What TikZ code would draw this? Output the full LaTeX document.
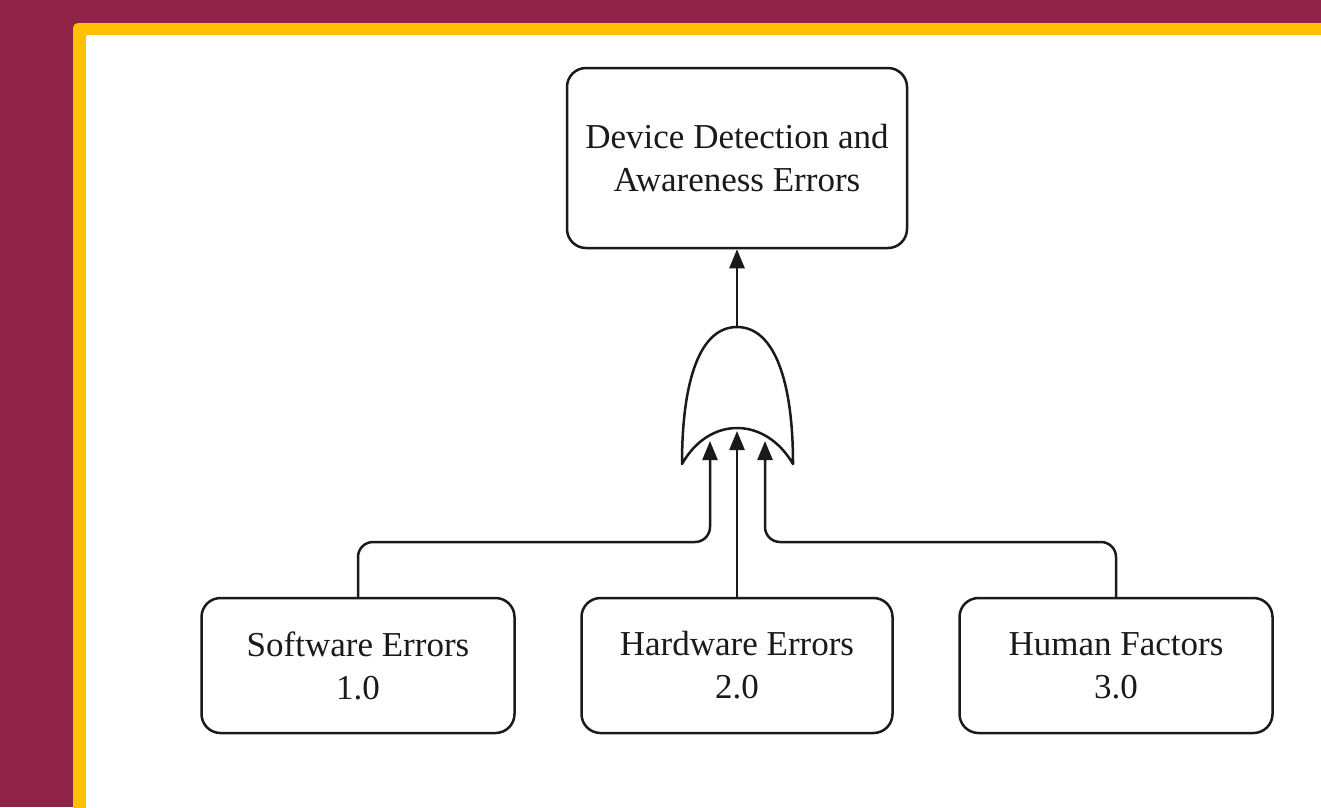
\documentclass[tikz,border=0pt]{standalone}
\usepackage{fontspec}
\setmainfont{Liberation Serif}
\usetikzlibrary{arrows.meta}
\definecolor{maroon}{HTML}{8E2247}
\definecolor{gold}{HTML}{FFC000}
\definecolor{ink}{HTML}{1A1A1A}
\tikzset{
  box/.style={draw=ink, line width=2.5pt, rounded corners=19pt, fill=white, align=center,
    inner sep=0pt, font=\fontsize{35}{43}\selectfont, text=ink},
  conn/.style={draw=ink, line width=2.5pt},
  arr/.style={conn, -{Triangle[length=19pt,width=15pt]}},
}
\begin{document}
\begin{tikzpicture}[x=1pt,y=-1pt]
\useasboundingbox (0,0) rectangle (1321,807);
\fill[maroon] (0,0) rectangle (1321,807);
\fill[gold, rounded corners=5pt] (73,23) rectangle (1345,835);
\fill[white, rounded corners=2pt] (86,35) rectangle (1345,835);

\node[box, minimum width=340pt, minimum height=180pt] (top) at (737,158) {Device Detection and\\Awareness Errors};
\node[box, minimum width=313pt, minimum height=135pt] (sw) at (358,665.5) {Software Errors\\1.0};
\node[box, minimum width=311pt, minimum height=135pt] (hw) at (737,665.5) {Hardware Errors\\2.0};
\node[box, minimum width=313pt, minimum height=135pt] (hf) at (1116,665.5) {Human Factors\\3.0};

% OR gate
\coordinate (gtop) at (737,327);
\coordinate (in1) at (710,441);
\coordinate (in2) at (737,431);
\coordinate (in3) at (765,441);
\coordinate (j1) at (710,542);
\coordinate (j3) at (765,542);
\draw[conn, line join=round] (682,464) .. controls (682,380) and (700,327) .. (gtop)
  .. controls (774,327) and (793,380) .. (793,464)
  .. controls (765,416) and (709,416) .. cycle;

\draw[arr] (gtop) -- (top.south);
\draw[arr, rounded corners=15pt] (sw.north) |- (j1) -- (in1);
\draw[arr] (hw.north) -- (in2);
\draw[arr, rounded corners=15pt] (hf.north) |- (j3) -- (in3);
\end{tikzpicture}
\end{document}
